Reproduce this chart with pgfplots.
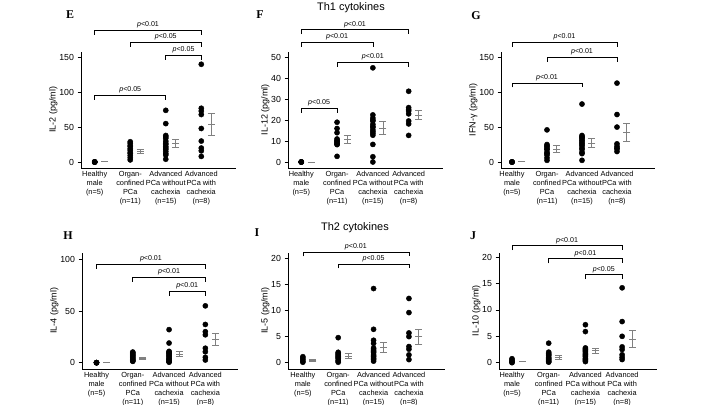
\documentclass[border=0pt]{standalone}
\usepackage{fontspec}
\setmainfont{Liberation Sans}
\newfontfamily\lserif{Liberation Serif}
\usepackage{pgfplots}
\pgfplotsset{compat=1.18}

\newcommand{\pfont}{\fontsize{7.1}{7.5}\selectfont}
\newcommand{\brk}[5]{%
  \draw[line width=0.7pt, black] ([yshift=-4.5bp]axis cs:#1,#4) -- (axis cs:#1,#4) -- (axis cs:#2,#4) -- ([yshift=-4.5bp]axis cs:#2,#4);
  \node[font=\pfont, anchor=base, inner sep=0pt, yshift=3.5bp] at (axis cs:#3,#4) {\textit{p}<#5};
}

\pgfplotsset{
  panel/.style={
    scale only axis, anchor=south west, clip=false,
    axis x line*=bottom, axis y line*=left,
    axis line style={-, line width=0.8pt, black},
    xtick={0,1,2,3},
    xticklabels={{Healthy\\male\\(n=5)},{Organ-\\confined\\PCa\\(n=11)},{Advanced\\PCa without\\cachexia\\(n=15)},{Advanced\\PCa with\\cachexia\\(n=8)}},
    xticklabel style={align=center, font=\fontsize{7.4}{8.9}\selectfont, yshift=3.5bp},
    major x tick style={draw=none},
    ytick pos=left,
    tick align=outside,
    major tick length=3.5bp,
    major y tick style={line width=0.8pt, black},
    yticklabel style={font=\fontsize{8.8}{10}\selectfont},
    ylabel style={font=\fontsize{9}{10}\selectfont},
    ylabel shift=-5bp,
    /pgf/number format/assume math mode=true,
  },
  dots/.style={only marks, mark=*, mark size=2.6bp, black},
  ebar/.style={only marks, mark=-, mark size=3.5bp, black!50, line width=0.7pt,
    mark options={line width=0.7pt, black!50},
    error bars/.cd, y dir=both, y explicit, error mark=|,
    error bar style={line width=0.7pt, black!50},
    error mark options={black!50, mark size=3.5bp, line width=0.7pt}},
}

\begin{document}
\begin{tikzpicture}
\useasboundingbox (0,0) rectangle (708bp,-405bp);

% ---------- E: IL-2
\begin{axis}[panel, at={(81bp,-168bp)}, width=155bp, height=116.3bp,
  xmin=-0.386, xmax=3.977, ymin=-8.6, ymax=158, ytick={0,50,100,150},
  ylabel={IL-2 (pg/ml)}]
\addplot[dots] coordinates {(0,0) (0,0) (0,0) (0,0) (0,0)};
\addplot[dots] coordinates {(1,29) (1,27) (1,24) (1,22) (1,19) (1,17) (1,14) (1,12) (1,9) (1,6) (1,3)};
\addplot[dots] coordinates {(2,74) (2,55) (2,38) (2,36) (2,34) (2,30) (2,27) (2,25) (2,22) (2,20) (2,18) (2,15) (2,12) (2,10) (2,4)};
\addplot[dots] coordinates {(3,140) (3,77) (3,73) (3,68) (3,48) (3,30) (3,20) (3,16) (3,8)};
\addplot[ebar] coordinates {(0.28,0.8) +- (0,0) (1.28,15.5) +- (0,2.7) (2.28,27) +- (0,6) (3.28,54) +- (0,15.5)};
\brk{0}{3}{1.5}{188.6}{0.01}
\brk{1}{3}{2}{171.4}{0.05}
\brk{2}{3}{2.5}{152.9}{0.05}
\brk{0}{2}{1}{95.7}{0.05}
\end{axis}

% ---------- F: IL-12
\begin{axis}[panel, at={(288bp,-168bp)}, width=155.4bp, height=116.3bp,
  xmin=-0.37, xmax=3.97, ymin=-2.87, ymax=52.7, ytick={0,10,20,30,40,50},
  ylabel={IL-12 (pg/ml)}]
\addplot[dots] coordinates {(0,0) (0,0) (0,0) (0,0) (0,0)};
\addplot[dots] coordinates {(1,19) (1,16) (1,14) (1,11) (1,10.2) (1,10) (1,9.4) (1,9) (1,8.5) (1,8.3) (1,2.7)};
\addplot[dots] coordinates {(2,45) (2,22.5) (2,21) (2,20) (2,19.6) (2,18) (2,17) (2,16.5) (2,15.3) (2,14.5) (2,13.7) (2,12.8) (2,8.4) (2,2.5) (2,0)};
\addplot[dots] coordinates {(3,33.8) (3,26) (3,25) (3,24.4) (3,23) (3,19.6) (3,18.2) (3,12.7)};
\addplot[ebar] coordinates {(0.28,0) +- (0,0) (1.28,10.8) +- (0,2.05) (2.28,16.2) +- (0,3.1) (3.28,22.4) +- (0,2.25)};
\brk{0}{3}{1.5}{63.3}{0.01}
\brk{0}{2}{1}{57.1}{0.01}
\brk{1}{3}{2}{47.6}{0.01}
\brk{0}{1}{0.5}{25.7}{0.05}
\end{axis}

% ---------- G: IFN-gamma
\begin{axis}[panel, at={(501bp,-168bp)}, width=154bp, height=116.3bp,
  xmin=-0.314, xmax=4.086, ymin=-8.6, ymax=158, ytick={0,50,100,150},
  ylabel={IFN-γ (pg/ml)}]
\addplot[dots] coordinates {(0,0) (0,0) (0,0) (0,0) (0,0)};
\addplot[dots] coordinates {(1,46) (1,25) (1,23) (1,21.5) (1,19) (1,17.7) (1,14) (1,12) (1,10) (1,6) (1,2.4)};
\addplot[dots] coordinates {(2,83) (2,38) (2,36) (2,35) (2,33) (2,31) (2,29) (2,27) (2,25) (2,23) (2,20) (2,18) (2,14) (2,12) (2,2.4)};
\addplot[dots] coordinates {(3,113) (3,68) (3,50) (3,26) (3,22.5) (3,20) (3,18.7) (3,15)};
\addplot[ebar] coordinates {(0.28,0.5) +- (0,0) (1.28,18.6) +- (0,4.75) (2.28,27.3) +- (0,6.7) (3.28,42.6) +- (0,12.7)};
\brk{0}{3}{1.5}{171.9}{0.01}
\brk{1}{3}{2}{150.4}{0.01}
\brk{0}{2}{1}{113.3}{0.01}
\end{axis}

% ---------- H: IL-4
\begin{axis}[panel, at={(82bp,-369bp)}, width=156bp, height=116.5bp,
  xmin=-0.4, xmax=3.9, ymin=-6.1, ymax=106.6, ytick={0,50,100},
  ylabel={IL-4 (pg/ml)}]
\addplot[dots] coordinates {(0,0) (0,0) (0,0) (0,0) (0,0)};
\addplot[dots] coordinates {(1,10.3) (1,9.4) (1,8.4) (1,7.4) (1,6.5) (1,5.5) (1,4.5) (1,3.5) (1,2.6) (1,1.8) (1,1.3)};
\addplot[dots] coordinates {(2,32) (2,19) (2,11) (2,10) (2,9.5) (2,8.7) (2,7.5) (2,6.5) (2,5.5) (2,4.2) (2,3.5) (2,2.8) (2,1.6) (2,1) (2,0.5)};
\addplot[dots] coordinates {(3,55) (3,37) (3,30) (3,27) (3,14) (3,10.6) (3,5.2) (3,2.6)};
\addplot[ebar] coordinates {(0.28,0) +- (0,0) (1.28,4.2) +- (0,1) (2.28,8.2) +- (0,2.4) (3.28,22.6) +- (0,6.1)};
\brk{0}{3}{1.5}{95.2}{0.01}
\brk{1}{3}{2}{82.6}{0.01}
\brk{2}{3}{2.5}{69.3}{0.01}
\end{axis}

% ---------- I: IL-5
\begin{axis}[panel, at={(288bp,-369bp)}, width=157bp, height=116.5bp,
  xmin=-0.42, xmax=4.02, ymin=-1.2, ymax=21.1, ytick={0,5,10,15,20},
  ylabel={IL-5 (pg/ml)}]
\addplot[dots] coordinates {(0,1.15) (0,0.9) (0,0.6) (0,0.3) (0,0.1)};
\addplot[dots] coordinates {(1,4.8) (1,2.0) (1,1.8) (1,1.6) (1,1.4) (1,1.2) (1,1.0) (1,0.8) (1,0.5) (1,0.3) (1,0.1)};
\addplot[dots] coordinates {(2,14.2) (2,6.4) (2,4.3) (2,3.7) (2,2.8) (2,2.6) (2,2.3) (2,2.1) (2,1.9) (2,1.5) (2,1.3) (2,1.1) (2,0.8) (2,0.6) (2,0.3)};
\addplot[dots] coordinates {(3,12.3) (3,9.6) (3,5.7) (3,5.0) (3,3.1) (3,2.6) (3,1.5) (3,0.6)};
\addplot[ebar] coordinates {(0.28,0.45) +- (0,0.19) (1.28,1.3) +- (0,0.45) (2.28,2.95) +- (0,0.95) (3.28,5.0) +- (0,1.45)};
\brk{0}{3}{1.5}{21.2}{0.01}
\brk{1}{3}{2}{18.9}{0.05}
\end{axis}

% ---------- J: IL-10
\begin{axis}[panel, at={(499bp,-369bp)}, width=158bp, height=116.5bp,
  xmin=-0.354, xmax=3.95, ymin=-1.2, ymax=20.9, ytick={0,5,10,15,20},
  ylabel={IL-10 (pg/ml)}]
\addplot[dots] coordinates {(0,0.75) (0,0.5) (0,0.3) (0,0.1) (0,0)};
\addplot[dots] coordinates {(1,3.7) (1,2.0) (1,1.7) (1,1.5) (1,1.3) (1,1.0) (1,0.8) (1,0.6) (1,0.4) (1,0.2) (1,0.1)};
\addplot[dots] coordinates {(2,7.2) (2,5.9) (2,2.8) (2,2.6) (2,2.4) (2,2.2) (2,2.0) (2,1.7) (2,1.5) (2,1.3) (2,1.1) (2,0.8) (2,0.6) (2,0.4) (2,0.2)};
\addplot[dots] coordinates {(3,14.2) (3,7.8) (3,5.0) (3,3.0) (3,2.5) (3,1.5) (3,1.0) (3,0.6)};
\addplot[ebar] coordinates {(0.28,0.2) +- (0,0) (1.28,1.0) +- (0,0.4) (2.28,2.25) +- (0,0.45) (3.28,4.5) +- (0,1.6)};
\brk{0}{3}{1.5}{22.2}{0.01}
\brk{1}{3}{2}{19.7}{0.01}
\brk{2}{3}{2.5}{16.7}{0.05}
\end{axis}

% titles and panel letters
\node[font=\fontsize{11}{12}\selectfont] at (351bp,-8bp) {Th1 cytokines};
\node[font=\fontsize{11}{12}\selectfont] at (355bp,-228bp) {Th2 cytokines};
\node[font=\lserif\bfseries\fontsize{12}{12}\selectfont] at (70bp,-15bp) {E};
\node[font=\lserif\bfseries\fontsize{12}{12}\selectfont] at (260bp,-15bp) {F};
\node[font=\lserif\bfseries\fontsize{12}{12}\selectfont] at (476bp,-15.5bp) {G};
\node[font=\lserif\bfseries\fontsize{12}{12}\selectfont] at (68bp,-236bp) {H};
\node[font=\lserif\bfseries\fontsize{12}{12}\selectfont] at (257bp,-233bp) {I};
\node[font=\lserif\bfseries\fontsize{12}{12}\selectfont] at (473bp,-236bp) {J};
\end{tikzpicture}
\end{document}
